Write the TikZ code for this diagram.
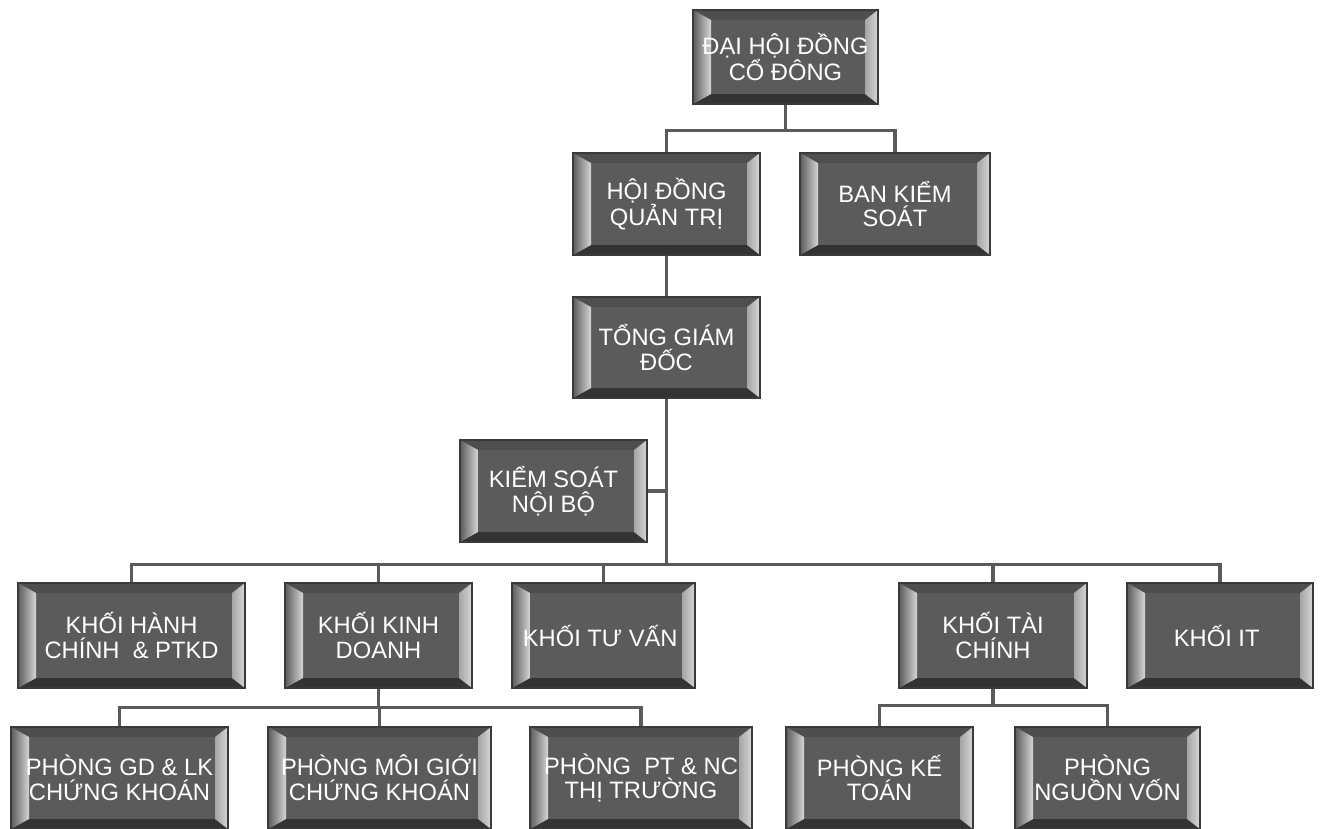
\documentclass[tikz,border=0pt]{standalone}
\usepackage{fontspec}
\usepackage{xcolor}
\usepackage{tikz}
\usetikzlibrary{
  positioning,
  calc
}
\newfontfamily\orgfont{Liberation Sans}
\definecolor{BoxFace}{HTML}{5B5B5B}
\definecolor{BoxEdge}{HTML}{3A3A3A}
\definecolor{BevelLight}{HTML}{D6D6D6}
\definecolor{BevelTop}{HTML}{4E4E4E}
\definecolor{BevelBottom}{HTML}{333333}
\definecolor{LineGray}{HTML}{5A5A5A}
\tikzset{
  orgbox/.style={
    draw=BoxEdge,
    line width=0.6pt,
    fill=BoxFace,
    text=white,
    font=\orgfont\fontsize{13.5pt}{14pt}\selectfont,
    align=center,
    inner sep=0pt,
    minimum width=3.72cm,
    minimum height=2.04cm,
    path picture={
      \fill[BevelTop]
        (path picture bounding box.north west) --
        (path picture bounding box.north east) --
        ($(path picture bounding box.north east)+(-0.26,-0.2)$) --
        ($(path picture bounding box.north west)+(0.36,-0.2)$) -- cycle;
      \fill[BevelBottom]
        (path picture bounding box.south west) --
        (path picture bounding box.south east) --
        ($(path picture bounding box.south east)+(-0.26,0.2)$) --
        ($(path picture bounding box.south west)+(0.36,0.2)$) -- cycle;
      \shade[left color=BoxFace, right color=BevelLight]
        (path picture bounding box.north west) --
        (path picture bounding box.south west) --
        ($(path picture bounding box.south west)+(0.36,0.2)$) --
        ($(path picture bounding box.north west)+(0.36,-0.2)$) -- cycle;
      \shade[left color=BevelLight!60!BoxFace, right color=BevelLight]
        (path picture bounding box.north east) --
        (path picture bounding box.south east) --
        ($(path picture bounding box.south east)+(-0.26,0.2)$) --
        ($(path picture bounding box.north east)+(-0.26,-0.2)$) -- cycle;
    }
  },
  connection/.style={
    draw=LineGray,
    line width=2.2pt
  }
}
\begin{document}
\begin{tikzpicture}

  \useasboundingbox (0,0) rectangle (26.42,-16.56);

  \node[
    orgbox,
    minimum width=3.7cm,
    minimum height=1.88cm
  ] (dhcd) at (15.71,-1.14) {
    ĐẠI HỘI ĐỒNG\\
    CỔ ĐÔNG
  };

  \node[
    orgbox,
    minimum width=3.74cm
  ] (hdqt) at (13.33,-4.08) {
    HỘI ĐỒNG\\
    QUẢN TRỊ
  };

  \node[
    orgbox,
    minimum width=3.8cm
  ] (bks) at (17.9,-4.08) {
    BAN KIỂM\\
    SOÁT
  };

  \node[
    orgbox,
    minimum width=3.74cm,
    minimum height=2.02cm
  ] (tgd) at (13.33,-6.95) {
    TỔNG GIÁM\\
    ĐỐC
  };

  \node[
    orgbox,
    minimum width=3.74cm
  ] (ksnb) at (11.07,-9.82) {
    KIỂM SOÁT\\
    NỘI BỘ
  };

  \node[
    orgbox,
    minimum width=4.54cm,
    minimum height=2.1cm
  ] (hanhchinh) at (2.63,-12.71) {
    KHỐI HÀNH\\
    CHÍNH \ \& PTKD
  };

  \node[
    orgbox,
    minimum width=3.74cm,
    minimum height=2.1cm
  ] (kinhdoanh) at (7.57,-12.71) {
    KHỐI KINH\\
    DOANH
  };

  \node[
    orgbox,
    minimum width=3.66cm,
    minimum height=2.1cm
  ] (tuvan) at (12.07,-12.71) {
    KHỐI TƯ VẤN
  };

  \node[
    orgbox,
    minimum width=3.76cm,
    minimum height=2.1cm
  ] (taichinh) at (19.86,-12.71) {
    KHỐI TÀI\\
    CHÍNH
  };

  \node[
    orgbox,
    minimum width=3.72cm,
    minimum height=2.1cm
  ] (khoiit) at (24.4,-12.71) {
    KHỐI IT
  };

  \node[
    orgbox,
    minimum width=4.34cm
  ] (giaodich) at (2.39,-15.56) {
    PHÒNG GD \& LK\\
    CHỨNG KHOÁN
  };

  \node[
    orgbox,
    minimum width=4.46cm
  ] (moigioi) at (7.59,-15.56) {
    PHÒNG MÔI GIỚI\\
    CHỨNG KHOÁN
  };

  \node[
    orgbox,
    minimum width=4.44cm
  ] (phantich) at (12.82,-15.56) {
    PHÒNG \ PT \& NC\\
    THỊ TRƯỜNG
  };

  \node[
    orgbox,
    minimum width=3.74cm
  ] (ketoan) at (17.59,-15.56) {
    PHÒNG KẾ\\
    TOÁN
  };

  \node[
    orgbox,
    minimum width=3.7cm
  ] (nguonvon) at (22.15,-15.56) {
    PHÒNG\\
    NGUỒN VỐN
  };

  \draw[connection]
  (dhcd.south) --
  ++(0,-0.52) -|
  (hdqt.north);

  \draw[connection]
  (dhcd.south) --
  ++(0,-0.52) -|
  (bks.north);

  \draw[connection]
  (hdqt.south) --
  (tgd.north);

  \draw[connection]
  (ksnb.east) --
  (ksnb.east -| tgd.south);

  \foreach \child in {hanhchinh,kinhdoanh,tuvan,taichinh,khoiit} {
    \draw[connection]
    (tgd.south) --
    ++(0,-3.32) -|
    (\child.north);
  }

  \foreach \child in {giaodich,moigioi,phantich} {
    \draw[connection]
    (kinhdoanh.south) --
    ++(0,-0.38) -|
    (\child.north);
  }

  \foreach \child in {ketoan,nguonvon} {
    \draw[connection]
    (taichinh.south) --
    ++(0,-0.34) -|
    (\child.north);
  }

\end{tikzpicture}
\end{document}
